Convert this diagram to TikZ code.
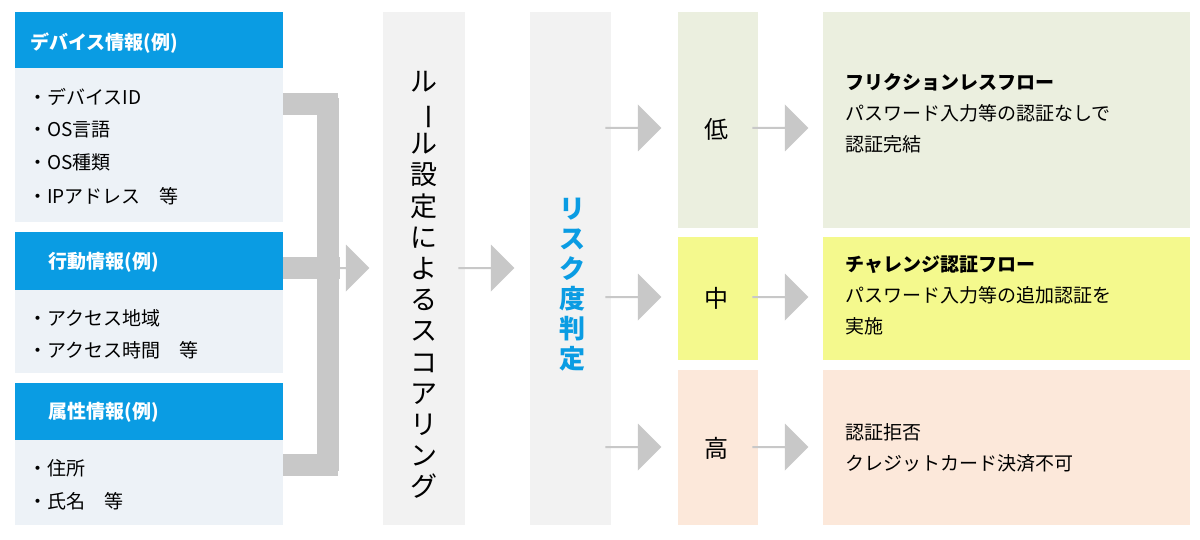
\documentclass[tikz,border=0pt]{standalone}
\usepackage{fontspec}
\setmainfont{Noto Sans CJK JP}
\usetikzlibrary{positioning,shapes.arrows}
\definecolor{hdblue}{HTML}{0A9CE3}
\definecolor{infobg}{HTML}{EDF2F7}
\definecolor{colbg}{HTML}{F2F2F2}
\definecolor{arrgray}{HTML}{C8C8C8}
\definecolor{lowbg}{HTML}{EBEFDF}
\definecolor{midbg}{HTML}{F4F98D}
\definecolor{highbg}{HTML}{FCE8DA}
\tikzset{
  hdr/.style={fill=hdblue, text=white, font=\bfseries\fontsize{9.5}{12}\selectfont, anchor=west, inner sep=0pt},
  item/.style={anchor=west, inner sep=0pt, font=\fontsize{9.5}{12}\selectfont},
  fatarr/.style={single arrow, fill=arrgray, draw=none, inner sep=0pt,
    minimum height=28pt, minimum width=23.5pt, single arrow head extend=4.5pt, single arrow tip angle=90},
  lvl/.style={font=\fontsize{12}{14}\selectfont, inner sep=0pt},
  res/.style={anchor=north west, inner sep=0pt, align=left, font=\fontsize{9.5}{15.5}\selectfont},
}
\newcommand{\chou}{\rotatebox[origin=c]{-90}{ー}}
\begin{document}
\begin{tikzpicture}[x=0.5pt,y=-0.5pt]
\useasboundingbox (0,0) rectangle (1200,540);
% left column
\fill[hdblue] (15,12) rectangle (283,68);
\fill[infobg] (15,68) rectangle (283,222);
\fill[hdblue] (15,232) rectangle (283,290);
\fill[infobg] (15,290) rectangle (283,373);
\fill[hdblue] (15,383) rectangle (283,440);
\fill[infobg] (15,440) rectangle (283,525);
\node (DEV) [hdr] at (30,43) {デバイス情報(例)};
\node (ACT) [hdr] at (48,262) {行動情報(例)};
\node (ATTR) [hdr] at (48,412) {属性情報(例)};
\node (DEV1) [item] at (28,97) {・デバイスID};
\node (DEV2) [item] at (28,130) {・OS言語};
\node (DEV3) [item] at (28,162) {・OS種類};
\node (DEV4) [item] at (28,196) {・IPアドレス\quad 等};
\node (ACT1) [item] at (28,318) {・アクセス地域};
\node (ACT2) [item] at (28,350) {・アクセス時間\quad 等};
\node (ATTR1) [item] at (28,468) {・住所};
\node (ATTR2) [item] at (28,501) {・氏名\quad 等};
% bracket
\coordinate (B1) at (283,104);
\coordinate (B2) at (283,268);
\coordinate (B3) at (283,465);
\draw[arrgray, line width=11pt] (B1) -- (338,104) (B2) -- (340,268) (B3) -- (338,465)
  (328,98.5) -- (328,470.5);
\node (IN) [fatarr, anchor=tip] at (370,268) {};
% scoring column
\fill[colbg] (383,12) rectangle (465,525);
\node (SCORE) [align=center, inner sep=0pt, font=\fontsize{13.5}{15.6}\selectfont] at (424,285)
  {ル\\\chou\\ル\\設\\定\\に\\よ\\る\\ス\\コ\\ア\\リ\\ン\\グ};
\node (TOR) [fatarr, anchor=tip] at (515,268) {};
% risk column
\fill[colbg] (530,12) rectangle (611,525);
\node (RISK) [align=center, inner sep=0pt, text=hdblue, font=\bfseries\fontsize{13}{15}\selectfont] at (572,285)
  {リ\\ス\\ク\\度\\判\\定};
% levels
\fill[lowbg] (678,12) rectangle (758,228);
\fill[midbg] (678,237) rectangle (758,360);
\fill[highbg] (678,370) rectangle (758,525);
\fill[lowbg] (823,12) rectangle (1190,228);
\fill[midbg] (823,237) rectangle (1190,360);
\fill[highbg] (823,370) rectangle (1190,525);
\node (LOW) [lvl] at (716,129) {低};
\node (MID) [lvl] at (716,298) {中};
\node (HIGH) [lvl] at (716,448) {高};
\foreach \y/\n in {128/a,297/b,447/c}{
  \node (L\n) [fatarr, anchor=tip] at (662,\y) {};
  \node (R\n) [fatarr, anchor=tip] at (809,\y) {};
}
\node (FRIC) [res] at (845,73) {\textbf{フリクションレスフロー}\\パスワード入力等の認証なしで\\認証完結};
\node (CHAL) [res] at (845,255) {\textbf{チャレンジ認証フロー}\\パスワード入力等の追加認証を\\実施};
\node (DENY) [res] at (845,423) {認証拒否\\クレジットカード決済不可};
\end{tikzpicture}
\end{document}
